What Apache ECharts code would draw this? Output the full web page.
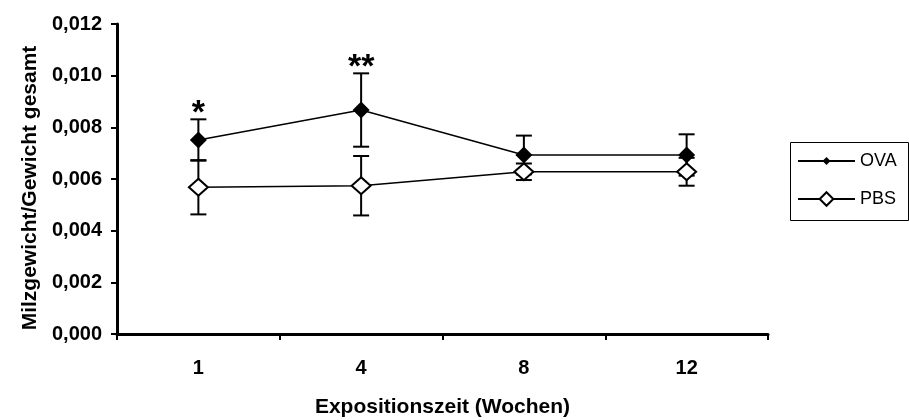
<!DOCTYPE html>
<html>
<head>
<meta charset="utf-8">
<script src="https://cdn.jsdelivr.net/npm/echarts@6/dist/echarts.min.js"></script>
<style>
  html, body { margin: 0; padding: 0; background: #fff; }
  #chart { width: 909px; height: 420px; }
</style>
</head>
<body>
<div id="chart"></div>
<script>
// Exposure time in weeks (category axis)
const weeks = ['1', '4', '8', '12'];

// Spleen weight / total body weight, mean and standard deviation
const ovaMean = [0.00751, 0.00867, 0.00693, 0.00693];
const ovaSd   = [0.00080, 0.00142, 0.00075, 0.00080];
const pbsMean = [0.00568, 0.00574, 0.00628, 0.00628];
const pbsSd   = [0.00105, 0.00115, 0.00032, 0.00054];

// Significance markers above the OVA group
const significance = ['*', '**', '', ''];

// Value-axis tick labels (German decimal comma)
const yTickLabels = ['0,000', '0,002', '0,004', '0,006', '0,008', '0,010', '0,012'];
const yStep = 0.002;

const FONT = '"Liberation Sans", Arial, Helvetica, sans-serif';

function errorData(mean, sd) {
  return mean.map((m, i) => [i, m - sd[i], m + sd[i]]);
}

function errorBarRenderer(marks) {
  return function (params, api) {
    const x = api.value(0);
    const lo = api.coord([x, api.value(1)]);
    const hi = api.coord([x, api.value(2)]);
    const cap = 8;
    const style = { stroke: '#000', lineWidth: 2, fill: null };
    const children = [
      { type: 'line', shape: { x1: lo[0], y1: lo[1], x2: hi[0], y2: hi[1] }, style },
      { type: 'line', shape: { x1: lo[0] - cap, y1: lo[1], x2: lo[0] + cap, y2: lo[1] }, style },
      { type: 'line', shape: { x1: hi[0] - cap, y1: hi[1], x2: hi[0] + cap, y2: hi[1] }, style }
    ];
    const mark = marks ? marks[params.dataIndex] : '';
    if (mark) {
      children.push({
        type: 'text',
        x: hi[0],
        y: hi[1] - 6,
        style: {
          text: mark,
          fill: '#000',
          font: 'bold 34px ' + FONT,
          textAlign: 'center',
          textVerticalAlign: 'middle'
        }
      });
    }
    return { type: 'group', children };
  };
}

const chart = echarts.init(document.getElementById('chart'), null, { renderer: 'canvas' });

chart.setOption({
  animation: false,
  backgroundColor: '#fff',
  textStyle: { fontFamily: FONT, color: '#000' },
  grid: {
    left: 117, right: 141, top: 24, bottom: 86,
    containLabel: false,
    outerBoundsMode: 'none'
  },
  legend: [
    {
      data: ['OVA'],
      left: 797, top: 152,
      padding: 0,
      itemWidth: 57, itemHeight: 10,
      textStyle: { fontFamily: FONT, fontSize: 18, color: '#000' }
    },
    {
      data: ['PBS'],
      left: 797, top: 190,
      padding: 0,
      itemWidth: 57, itemHeight: 17,
      textStyle: { fontFamily: FONT, fontSize: 18, color: '#000' }
    }
  ],
  graphic: [
    {
      type: 'rect',
      shape: { x: 790.5, y: 142.5, width: 118, height: 78 },
      style: { fill: null, stroke: '#000', lineWidth: 1 },
      silent: true
    }
  ],
  xAxis: {
    type: 'category',
    data: weeks,
    boundaryGap: true,
    axisLine: { show: true, lineStyle: { color: '#000', width: 3 } },
    axisTick: { show: true, length: 6, lineStyle: { color: '#000', width: 2 } },
    axisLabel: { color: '#000', fontFamily: FONT, fontSize: 20, fontWeight: 'bold', margin: 24 },
    splitLine: { show: false },
    name: 'Expositionszeit (Wochen)',
    nameLocation: 'middle',
    nameGap: 63,
    nameTextStyle: { color: '#000', fontFamily: FONT, fontSize: 21, fontWeight: 'bold' }
  },
  yAxis: {
    type: 'value',
    min: 0,
    max: 0.012,
    interval: yStep,
    axisLine: { show: true, lineStyle: { color: '#000', width: 3 } },
    axisTick: { show: true, length: 6, lineStyle: { color: '#000', width: 2 } },
    axisLabel: {
      color: '#000', fontFamily: FONT, fontSize: 20, fontWeight: 'bold', margin: 15,
      formatter: v => yTickLabels[Math.round(v / yStep)]
    },
    splitLine: { show: false },
    name: 'Milzgewicht/Gewicht gesamt',
    nameLocation: 'middle',
    nameGap: 71,
    nameTextStyle: {
      color: '#000', fontFamily: FONT, fontSize: 21, fontWeight: 'bold',
      padding: [0, 18, 0, 0]
    }
  },
  series: [
    {
      name: 'OVA-Fehler',
      type: 'custom',
      renderItem: errorBarRenderer(significance),
      data: errorData(ovaMean, ovaSd),
      z: 1,
      silent: true
    },
    {
      name: 'PBS-Fehler',
      type: 'custom',
      renderItem: errorBarRenderer(null),
      data: errorData(pbsMean, pbsSd),
      z: 1,
      silent: true
    },
    {
      name: 'OVA',
      type: 'line',
      data: ovaMean,
      symbol: 'diamond',
      symbolSize: 17,
      showAllSymbol: true,
      lineStyle: { color: '#000', width: 1.5 },
      itemStyle: { color: '#000', borderColor: '#000', borderWidth: 0 },
      z: 2
    },
    {
      name: 'PBS',
      type: 'line',
      data: pbsMean,
      symbol: 'diamond',
      symbolSize: [19, 17],
      showAllSymbol: true,
      lineStyle: { color: '#000', width: 1.5 },
      itemStyle: { color: '#fff', borderColor: '#000', borderWidth: 2 },
      z: 3
    }
  ]
});
</script>
</body>
</html>
